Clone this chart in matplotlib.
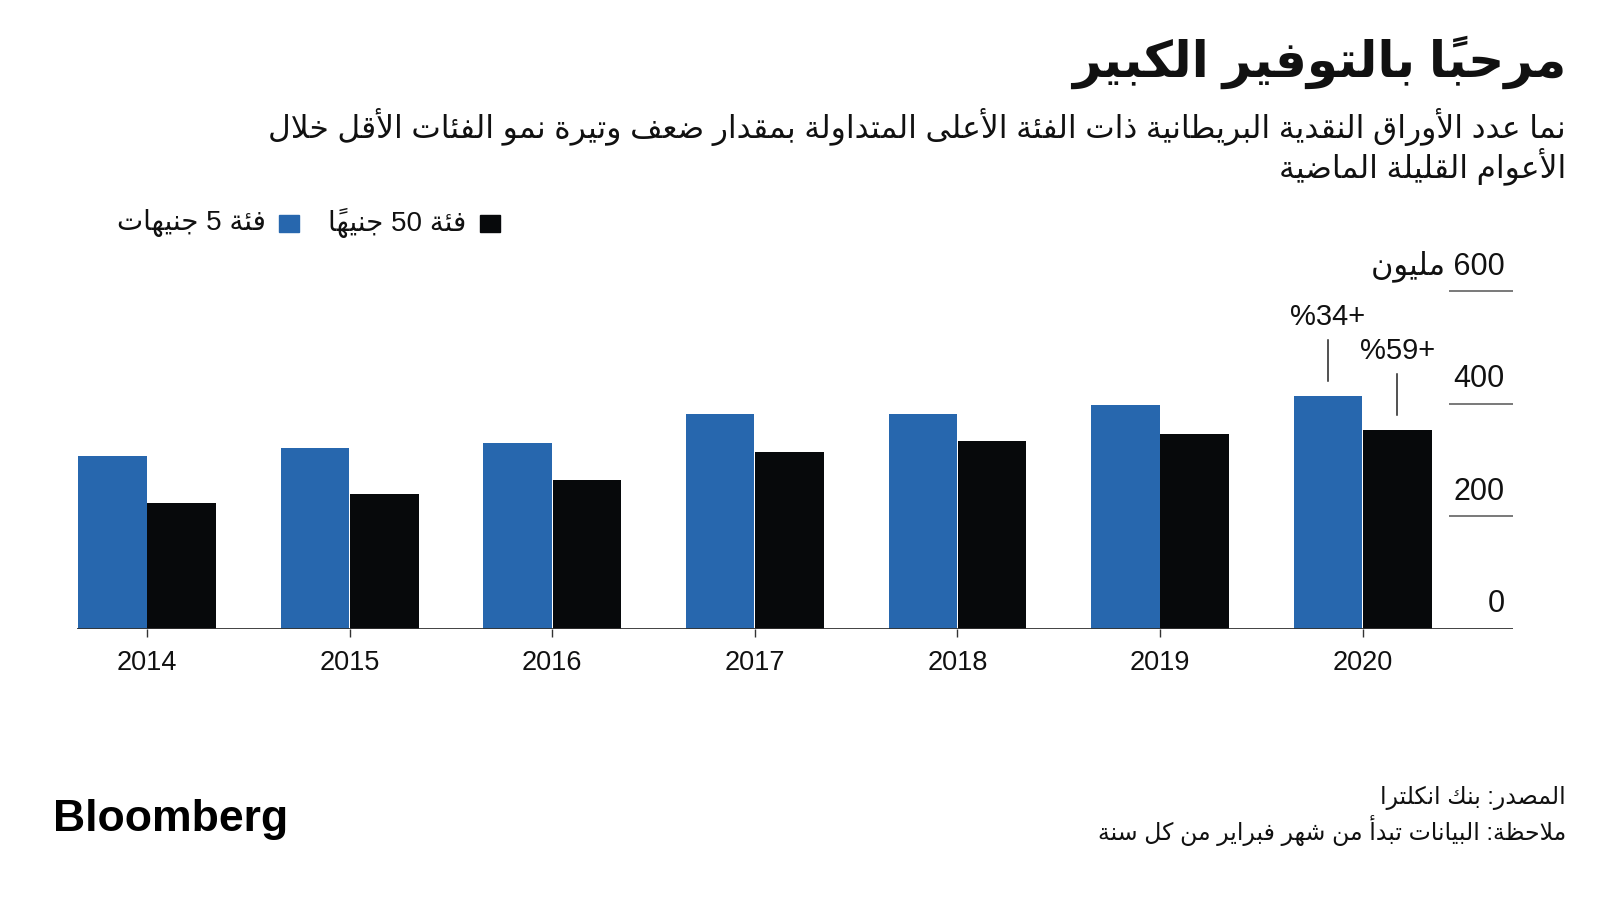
import re
import numpy as np
import matplotlib
matplotlib.use("Agg")
import matplotlib.pyplot as plt
from matplotlib.patches import Rectangle

plt.rcParams['font.family'] = ['Liberation Sans', 'DejaVu Sans']

# data (millions of notes in circulation, February of each year)
years = ['2014', '2015', '2016', '2017', '2018', '2019', '2020']
notes_5 = [308, 321, 330, 381, 382, 398, 414]
notes_50 = [223, 239, 264, 314, 334, 346, 354]
growth_5 = '+34%'
growth_50 = '+59%'
yticks = [0, 200, 400, 600]

title = 'مرحباً بالتوفير الكبير'
subtitle = ['نما عدد الأوراق النقدية البريطانية ذات الفئة الأعلى المتداولة بمقدار ضعف وتيرة نمو الفئات الأقل خلال',
            'الأعوام القليلة الماضية']
label_5 = 'فئة 5 جنيهات'
label_50 = 'فئة 50 جنيهاً'
unit = 'مليون'
source = 'المصدر: بنك انكلترا'
note = 'ملاحظة: البيانات تبدأ من شهر فبراير من كل سنة'

blue = '#2767ae'
black = '#07090b'

# --- minimal arabic shaping (matplotlib draws glyphs left to right, unshaped)
DUAL = {'ئ': 0xFE89, 'ب': 0xFE8F, 'ت': 0xFE95, 'ث': 0xFE99, 'ج': 0xFE9D, 'ح': 0xFEA1,
        'خ': 0xFEA5, 'س': 0xFEB1, 'ش': 0xFEB5, 'ص': 0xFEB9, 'ض': 0xFEBD, 'ط': 0xFEC1,
        'ظ': 0xFEC5, 'ع': 0xFEC9, 'غ': 0xFECD, 'ف': 0xFED1, 'ق': 0xFED5, 'ك': 0xFED9,
        'ل': 0xFEDD, 'م': 0xFEE1, 'ن': 0xFEE5, 'ه': 0xFEE9, 'ي': 0xFEF1}
RIGHT = {'آ': 0xFE81, 'أ': 0xFE83, 'ؤ': 0xFE85, 'إ': 0xFE87, 'ا': 0xFE8D, 'ة': 0xFE93,
         'د': 0xFEA9, 'ذ': 0xFEAB, 'ر': 0xFEAD, 'ز': 0xFEAF, 'و': 0xFEED, 'ى': 0xFEEF}
LAMALEF = {'آ': 0xFEF5, 'أ': 0xFEF7, 'إ': 0xFEF9, 'ا': 0xFEFB}
MARKS = set(chr(c) for c in range(0x064B, 0x0653))


def ar(s):
    # group into clusters: [base, marks]
    cl = []
    for c in s:
        if c in MARKS and cl:
            cl[-1][1] += c
        else:
            cl.append([c, ''])
    # lam-alef ligatures
    merged = []
    for c in cl:
        if merged and merged[-1][0] == 'ل' and c[0] in LAMALEF and not merged[-1][1]:
            merged[-1] = ['LA' + c[0], c[1]]
        else:
            merged.append(c)
    cl = merged

    def joins_next(b):
        return b in DUAL

    def joins_prev(b):
        return b in DUAL or b in RIGHT or b.startswith('LA')

    out = []
    for i, (b, m) in enumerate(cl):
        p = i > 0 and joins_next(cl[i - 1][0]) and joins_prev(b)
        n = i < len(cl) - 1 and joins_next(b) and joins_prev(cl[i + 1][0])
        if b in DUAL:
            g = chr(DUAL[b] + (1 if p and not n else 2 if n and not p else 3 if p and n else 0))
        elif b in RIGHT:
            g = chr(RIGHT[b] + (1 if p else 0))
        elif b.startswith('LA'):
            g = chr(LAMALEF[b[2]] + (1 if p else 0))
        else:
            g = b
        out.append(g + m)
    vis = ''.join(out[::-1])
    return re.sub(r'[0-9]+', lambda mt: mt.group(0)[::-1], vis)


fig = plt.figure(figsize=(16, 9), dpi=100)
W, H = 1600, 900


def fx(x):
    return x / W


def fy(y):
    return 1 - y / H


ax = fig.add_axes([fx(76.5), fy(629), fx(1513) - fx(76.5), fy(268.5) - fy(629)])

x = np.arange(len(years))
bw = 0.338
ax.bar(x - 0.171, notes_5, bw, color=blue, linewidth=0)
ax.bar(x + 0.171, notes_50, bw, color=black, linewidth=0)

xmin, xmax = -0.348, 6.742
ax.set_xlim(xmin, xmax)
ax.set_ylim(0, 640)
ax.axhline(0, color='#333333', lw=1.3, zorder=3)
ax.hlines(yticks[1:], 6.427, xmax, color='#555555', lw=1.1)
for t in yticks:
    lab = str(t) if t != 600 else ar('600 ' + unit)
    ax.text(6.70, t + 44, lab, ha='right', va='center', fontsize=22, color='#111111')

for s in ['top', 'right', 'left', 'bottom']:
    ax.spines[s].set_visible(False)
ax.set_yticks([])
ax.set_xticks(x)
ax.set_xticklabels(years, fontsize=19.5, color='#111111')
ax.tick_params(axis='x', length=6, width=1, color='#333333', pad=9)

# growth annotations on the last year
for xi, v, lab in [(x[-1] - 0.171, notes_5[-1], growth_5), (x[-1] + 0.171, notes_50[-1], growth_50)]:
    ax.plot([xi, xi], [v + 26, v + 99], color='#222222', lw=1.1)
    ax.text(xi, v + 140, ar(lab), ha='center', va='center', fontsize=21, color='#111111')

# titles
fig.text(fx(1566), fy(62), ar(title), ha='right', va='center', fontsize=36,
         fontweight='bold', color='#111111')
fig.text(fx(1566), fy(127), ar(subtitle[0]), ha='right', va='center', fontsize=22.5, color='#111111')
fig.text(fx(1566), fy(166), ar(subtitle[1]), ha='right', va='center', fontsize=22.5, color='#111111')

# legend
fig.add_artist(Rectangle((fx(480), fy(232)), fx(20), fy(215) - fy(232), color=black,
                         transform=fig.transFigure))
fig.text(fx(466), fy(223), ar(label_50), ha='right', va='center', fontsize=20, color='#111111')
fig.add_artist(Rectangle((fx(279), fy(232)), fx(20), fy(215) - fy(232), color=blue,
                         transform=fig.transFigure))
fig.text(fx(266), fy(223), ar(label_5), ha='right', va='center', fontsize=20, color='#111111')

# footer
fig.text(fx(1566), fy(798), ar(source), ha='right', va='center', fontsize=17, color='#111111')
fig.text(fx(1566), fy(830), ar(note), ha='right', va='center', fontsize=17, color='#111111')
fig.text(fx(53), fy(820), 'Bloomberg', ha='left', va='center', fontsize=32,
         fontweight='bold', family='Liberation Sans', color='#000000')

fig.savefig('out.png', dpi=100)
